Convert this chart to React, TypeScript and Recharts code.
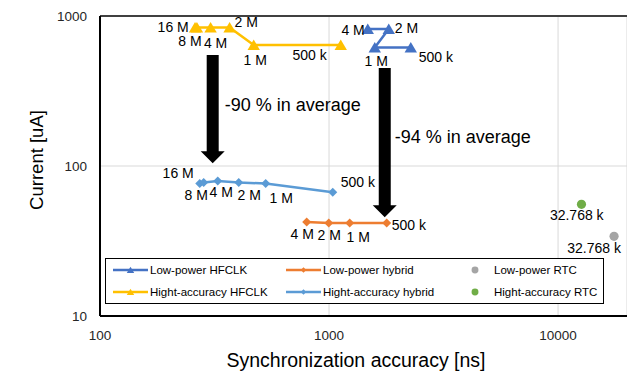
import React from "react";
import {
  ScatterChart, Scatter, XAxis, YAxis, CartesianGrid, ReferenceLine, ReferenceDot,
} from "recharts";

const FONT = "'Liberation Sans', Arial, sans-serif";

// Low-power HFCLK
const LP_HFCLK_X = [1476, 1823, 1584, 2275];
const LP_HFCLK_Y = [819, 819, 616, 616];
const LP_HFCLK_LABELS = ["4 M", "2 M", "1 M", "500 k"];

// Hight-accuracy HFCLK
const HA_HFCLK_X = [260, 265, 304, 368, 469, 1125];
const HA_HFCLK_Y = [838, 838, 838, 838, 640, 640];
const HA_HFCLK_LABELS = ["16 M", "8 M", "4 M", "2 M", "1 M", "500 k"];

// Low-power hybrid
const LP_HYB_X = [799, 997, 1231, 1786];
const LP_HYB_Y = [42.3, 41.7, 41.7, 41.7];
const LP_HYB_LABELS = ["4 M", "2 M", "1 M", "500 k"];

// Hight-accuracy hybrid
const HA_HYB_X = [272.6, 283.7, 326.6, 403.4, 529.1, 1038];
const HA_HYB_Y = [76.4, 77.6, 79.5, 77.6, 76.4, 66.8];
const HA_HYB_LABELS = ["16 M", "8 M", "4 M", "2 M", "1 M", "500 k"];

// RTC
const LP_RTC_X = [17560];
const LP_RTC_Y = [33.96];
const LP_RTC_LABELS = ["32.768 k"];
const HA_RTC_X = [12655];
const HA_RTC_Y = [55.5];
const HA_RTC_LABELS = ["32.768 k"];

const X_TICKS = [100, 1000, 10000];
const Y_TICKS = [10, 100, 1000];
const X_MINOR = [200, 300, 400, 500, 600, 700, 800, 900, 2000, 3000, 4000, 5000, 6000, 7000, 8000, 9000];
const Y_MINOR = [20, 30, 40, 50, 60, 70, 80, 90, 200, 300, 400, 500, 600, 700, 800, 900];

// annotation arrows (data coords)
const ARROW_X = [310.5, 1751];
const ARROW_TOP = [549, 449.6];
const ARROW_TIP = [104.3, 45.5];
const NOTE_TEXT = ["-90 % in average", "-94 % in average"];
const NOTE_X = [350.5, 1936];
const NOTE_Y = [254.6, 155.6];

const zip = (xs: number[], ys: number[], ls: string[]) =>
  xs.map((x, i) => ({ x, y: ys[i], label: ls[i] }));

// label placement: [dx, dy, anchor]
type Place = Record<string, [number, number, string]>;
const LP_HFCLK_PLACE: Place = {
  "4 M": [-3, 1, "end"], "2 M": [6, -1.5, "start"], "1 M": [1.5, 13, "middle"], "500 k": [8, 9, "start"],
};
const HA_HFCLK_PLACE: Place = {
  "16 M": [-6.3, -1, "end"], "8 M": [-7, 13, "middle"], "4 M": [5, 15, "middle"],
  "2 M": [5, -5.5, "start"], "1 M": [1.5, 15, "middle"], "500 k": [-14, 9.5, "end"],
};
const LP_HYB_PLACE: Place = {
  "4 M": [-4.5, 12, "middle"], "2 M": [0.5, 12, "middle"], "1 M": [8.5, 14, "middle"], "500 k": [5, 2, "start"],
};
const HA_HYB_PLACE: Place = {
  "16 M": [-6, -11, "end"], "8 M": [-7.5, 12, "middle"], "4 M": [3.5, 11.5, "middle"],
  "2 M": [10.5, 12, "middle"], "1 M": [15.5, 14, "middle"], "500 k": [8, -10, "start"],
};
const LP_RTC_PLACE: Place = { "32.768 k": [-20, 11.5, "middle"] };
const HA_RTC_PLACE: Place = { "32.768 k": [-4.7, 10.5, "middle"] };

function marker(kind: string, cx: number, cy: number, color: string, s = 1) {
  if (kind === "triangle")
    return <polygon points={`${cx},${cy - 5.5 * s} ${cx + 6.2 * s},${cy + 5 * s} ${cx - 6.2 * s},${cy + 5 * s}`} fill={color} />;
  if (kind === "diamond")
    return <polygon points={`${cx},${cy - 4.5 * s} ${cx + 4.5 * s},${cy} ${cx},${cy + 4.5 * s} ${cx - 4.5 * s},${cy}`} fill={color} />;
  return <circle cx={cx} cy={cy} r={4.6 * s} fill={color} />;
}

const SERIES = [
  { name: "Low-power HFCLK", color: "#4472C4", kind: "triangle", line: true, data: zip(LP_HFCLK_X, LP_HFCLK_Y, LP_HFCLK_LABELS), place: LP_HFCLK_PLACE },
  { name: "Low-power hybrid", color: "#ED7D31", kind: "diamond", line: true, data: zip(LP_HYB_X, LP_HYB_Y, LP_HYB_LABELS), place: LP_HYB_PLACE },
  { name: "Low-power RTC", color: "#A5A5A5", kind: "circle", line: false, data: zip(LP_RTC_X, LP_RTC_Y, LP_RTC_LABELS), place: LP_RTC_PLACE },
  { name: "Hight-accuracy HFCLK", color: "#FFC000", kind: "triangle", line: true, data: zip(HA_HFCLK_X, HA_HFCLK_Y, HA_HFCLK_LABELS), place: HA_HFCLK_PLACE },
  { name: "Hight-accuracy hybrid", color: "#5B9BD5", kind: "diamond", line: true, data: zip(HA_HYB_X, HA_HYB_Y, HA_HYB_LABELS), place: HA_HYB_PLACE },
  { name: "Hight-accuracy RTC", color: "#70AD47", kind: "circle", line: false, data: zip(HA_RTC_X, HA_RTC_Y, HA_RTC_LABELS), place: HA_RTC_PLACE },
];

const makeShape = (s: any) => (p: any) => {
  const lab = p.payload?.label;
  const pl = s.place[lab] || [0, 12, "middle"];
  return (
    <g>
      {marker(s.kind, p.cx, p.cy, s.color)}
      <text x={p.cx + pl[0]} y={p.cy + pl[1]} textAnchor={pl[2]} dominantBaseline="central"
        fontSize={14} fontFamily={FONT} fill="#000">{lab}</text>
    </g>
  );
};

const Arrow = (p: any) => {
  const { x1, y1, y2 } = p;
  const hw = 6, HW = 12, HL = 12;
  const pts = [
    [x1 - hw, y1], [x1 + hw, y1], [x1 + hw, y2 - HL], [x1 + HW, y2 - HL],
    [x1, y2], [x1 - HW, y2 - HL], [x1 - hw, y2 - HL],
  ].map((q) => q.join(",")).join(" ");
  return <polygon points={pts} fill="#000" />;
};

function LegendBox() {
  const colX = [113, 286, 475];
  const rowY = [270, 292];
  return (
    <svg width={627} height={373} style={{ position: "absolute", left: 0, top: 0, pointerEvents: "none" }}>
      <rect x={105.5} y={258.5} width={498} height={45} fill="#fff" stroke="#000" strokeWidth={1} />
      {SERIES.map((s, i) => {
        const col = i % 3;
        const row = Math.floor(i / 3);
        const y = rowY[row];
        const x0 = colX[col];
        if (s.line) {
          return (
            <g key={s.name}>
              <line x1={x0} x2={x0 + 35} y1={y} y2={y} stroke={s.color} strokeWidth={2.5} />
              {marker(s.kind, x0 + 17.5, y, s.color, 0.6)}
              <text x={x0 + 37} y={y} dominantBaseline="central" fontSize={11.5} fontFamily={FONT} fill="#000">{s.name}</text>
            </g>
          );
        }
        return (
          <g key={s.name}>
            {marker(s.kind, x0, y, s.color, 0.75)}
            <text x={x0 + 19} y={y} dominantBaseline="central" fontSize={11.5} fontFamily={FONT} fill="#000">{s.name}</text>
          </g>
        );
      })}
    </svg>
  );
}

export default function App() {
  return (
    <div style={{ position: "absolute", left: 0, top: 0, width: 627, height: 373, background: "#fff" }}>
      <ScatterChart width={627} height={373} margin={{ top: 16, right: 0, bottom: 0, left: 0 }}>
        <CartesianGrid stroke="#D9D9D9" strokeWidth={1} />
        <XAxis
          type="number" dataKey="x" scale="log" domain={[100, 20000]} ticks={X_TICKS} interval={0}
          allowDataOverflow height={57} axisLine={{ stroke: "#000", strokeWidth: 2 }} tickLine={false}
          tickSize={0} tickMargin={14} tick={{ fontSize: 13.5, fill: "#262626", fontFamily: FONT }}
          label={{
            value: "Synchronization accuracy [ns]",
            content: (p: any) => (
              <text x={p.viewBox.x + 256} y={p.viewBox.y + 51} textAnchor="middle" fontSize={19.5} fontFamily={FONT} fill="#000">
                Synchronization accuracy [ns]
              </text>
            ),
          }}
        />
        <YAxis
          type="number" dataKey="y" scale="log" domain={[10, 1000]} ticks={Y_TICKS} interval={0}
          allowDataOverflow width={100} axisLine={{ stroke: "#000", strokeWidth: 2 }} tickLine={false}
          tickSize={0} tickMargin={13} tick={{ fontSize: 13.5, fill: "#262626", fontFamily: FONT }}
          label={{
            value: "Current [uA]",
            content: (p: any) => {
              const cy = p.viewBox.y + p.viewBox.height / 2 - 6;
              return (
                <text x={43} y={cy} transform={`rotate(-90, 43, ${cy})`} textAnchor="middle" fontSize={18.5} fontFamily={FONT} fill="#000">
                  Current [uA]
                </text>
              );
            },
          }}
        />
        <XAxis
          xAxisId="minor" type="number" scale="log" domain={[100, 20000]} ticks={X_MINOR} interval={0}
          allowDataOverflow mirror height={0} axisLine={false} tick={false} tickSize={4}
          tickLine={{ stroke: "#000", strokeWidth: 1 }}
        />
        <YAxis
          yAxisId="minor" type="number" scale="log" domain={[10, 1000]} ticks={Y_MINOR} interval={0}
          allowDataOverflow mirror width={0} axisLine={false} tick={false} tickSize={4}
          tickLine={{ stroke: "#000", strokeWidth: 1 }}
        />
        <ReferenceLine y={1000} stroke="#404040" strokeWidth={2} />
        {SERIES.map((s) => (
          <Scatter
            key={s.name} name={s.name} data={s.data} fill={s.color}
            line={s.line ? { stroke: s.color, strokeWidth: 2.5 } : false}
            shape={makeShape(s)} isAnimationActive={false}
          />
        ))}
        {ARROW_X.map((x, i) => (
          <ReferenceLine key={"a" + i} segment={[{ x, y: ARROW_TOP[i] }, { x, y: ARROW_TIP[i] }]} shape={Arrow} />
        ))}
        {NOTE_TEXT.map((t, i) => (
          <ReferenceDot key={"n" + i} x={NOTE_X[i]} y={NOTE_Y[i]} r={0}
            shape={(p: any) => (
              <text x={p.cx} y={p.cy} dominantBaseline="central" fontSize={18} fontFamily={FONT} fill="#000">{t}</text>
            )}
          />
        ))}
      </ScatterChart>
      <LegendBox />
    </div>
  );
}
